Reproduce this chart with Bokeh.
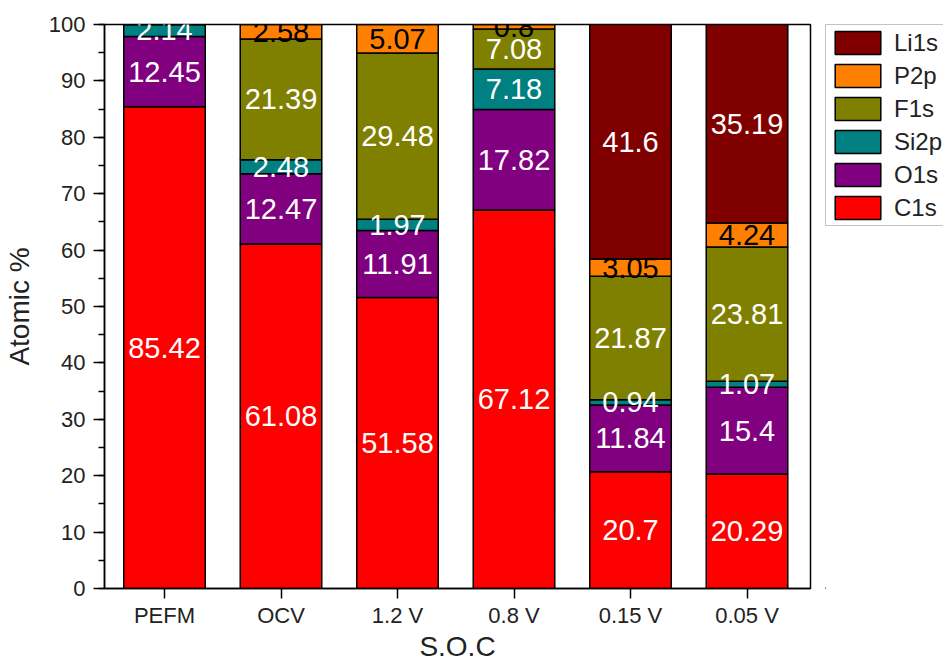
from bokeh.plotting import figure
from bokeh.models import (ColumnDataSource, Range1d, Legend, LegendItem, LabelSet, FixedTicker,
                          SingleIntervalTicker)
from bokeh.layouts import row
from bokeh.core.properties import value
from bokeh.embed import file_html
from bokeh.resources import INLINE

categories = ["PEFM", "OCV", "1.2 V", "0.8 V", "0.15 V", "0.05 V"]
C1s = [85.42, 61.08, 51.58, 67.12, 20.7, 20.29]
O1s = [12.45, 12.47, 11.91, 17.82, 11.84, 15.4]
Si2p = [2.14, 2.48, 1.97, 7.18, 0.94, 1.07]
F1s = [0, 21.39, 29.48, 7.08, 21.87, 23.81]
P2p = [0, 2.58, 5.07, 0.8, 3.05, 4.24]
Li1s = [0, 0, 0, 0, 41.6, 35.19]

series_names = ["C1s", "O1s", "Si2p", "F1s", "P2p", "Li1s"]
series_values = [C1s, O1s, Si2p, F1s, P2p, Li1s]
series_colors = ["#FF0000", "#800080", "#008080", "#808000", "#FF8000", "#800000"]
label_colors = ["white", "white", "white", "white", "black", "white"]

FONT = "Liberation Sans"
H = 664

xs = list(range(len(categories)))
data = {"x": xs}
for n, v in zip(series_names, series_values):
    data[n] = v
src = ColumnDataSource(data)

p = figure(width=812, height=H, output_backend="svg", toolbar_location=None,
           x_range=Range1d(-0.515, 5.545), y_range=Range1d(0, 100),
           min_border_left=104, min_border_right=2, min_border_top=24, min_border_bottom=76)
p.xgrid.grid_line_color = None
p.ygrid.grid_line_color = None
p.outline_line_color = "black"
p.outline_line_width = 1.5
p.background_fill_color = "white"
p.border_fill_color = "white"

renderers = p.vbar_stack(series_names, x="x", width=0.7, source=src,
                         color=series_colors, line_color="black", line_width=1.5)

# labels
lx, ly, lt, lc = [], [], [], []
for i in xs:
    base = 0.0
    for n, v, c in zip(series_names, series_values, label_colors):
        val = v[i]
        if val > 0:
            lx.append(i)
            ly.append(base + val / 2.0)
            lt.append(str(val))
            lc.append(c)
        base += val
lsrc = ColumnDataSource(dict(x=lx, y=ly, t=lt, c=lc))
labels = LabelSet(x="x", y="y", text="t", source=lsrc, text_color="c",
                  text_align="center", text_baseline="middle",
                  text_font=value(FONT), text_font_size=value("29px"))
p.add_layout(labels)

# axes
p.xaxis.ticker = FixedTicker(ticks=xs)
p.xaxis.major_label_overrides = {i: c for i, c in zip(xs, categories)}
p.xaxis.major_tick_out = 10
p.xaxis.major_tick_in = 0
p.yaxis.ticker = SingleIntervalTicker(interval=10, num_minor_ticks=2)
p.yaxis.major_tick_out = 11
p.yaxis.major_tick_in = 0
p.yaxis.minor_tick_out = 6
p.yaxis.minor_tick_in = 0
for ax in (p.xaxis, p.yaxis):
    ax.axis_line_width = 1.5
    ax.axis_line_color = "black"
    ax.major_tick_line_width = 1.5
    ax.minor_tick_line_width = 1.5
    ax.major_tick_line_color = "black"
    ax.major_label_text_font = FONT
    ax.major_label_text_font_size = "22px"
    ax.major_label_text_color = "#222222"
    ax.axis_label_text_font = FONT
    ax.axis_label_text_font_size = "28px"
    ax.axis_label_text_font_style = "normal"
    ax.axis_label_text_color = "#222222"
p.xaxis.minor_tick_line_color = None
p.yaxis.minor_tick_line_color = "black"
p.xaxis.axis_label = "S.O.C"
p.yaxis.axis_label = "Atomic %"
p.xaxis.major_label_standoff = 4
p.yaxis.major_label_standoff = 8
p.xaxis.axis_label_standoff = 0
p.yaxis.axis_label_standoff = 11

# legend panel
lf = figure(width=131, height=H, output_backend="svg", toolbar_location=None,
            x_range=Range1d(0, 1), y_range=Range1d(0, 1),
            x_axis_location=None, y_axis_location=None,
            min_border_left=13, min_border_top=24, min_border_right=0, min_border_bottom=0)
lf.outline_line_color = None
lf.xgrid.grid_line_color = None
lf.ygrid.grid_line_color = None
items = []
for n, c in zip(series_names, series_colors):
    # off-screen proxy bar, only used to give the legend its swatch
    r = lf.vbar(x=[-5], top=[0], bottom=[0], width=0.5, fill_color=c,
                line_color="black", line_width=1.5)
    items.append(LegendItem(label=n, renderers=[r]))
items.reverse()
legend = Legend(items=items, location="top_left", margin=0, padding=3, spacing=4,
                glyph_width=57, glyph_height=29, label_standoff=8,
                label_text_font=FONT, label_text_font_size="24px", label_text_color="#222222",
                border_line_color="#888888", border_line_width=1.5,
                background_fill_alpha=1.0)
lf.add_layout(legend)

open("out.html", "w").write(file_html(row(p, lf), INLINE))
